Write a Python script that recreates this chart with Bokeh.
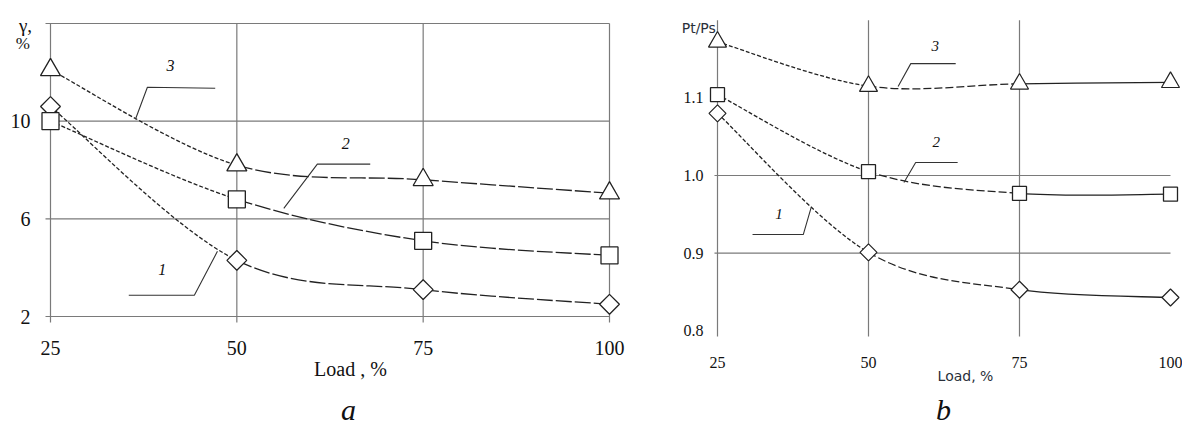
import numpy as np
from bokeh.plotting import figure
from bokeh.layouts import row
from bokeh.models import FixedTicker, Label, Range1d, NumeralTickFormatter
from bokeh.embed import file_html
from bokeh.resources import INLINE

# ---------------- data ----------------
load = [25, 50, 75, 100]
series_names = ["1", "2", "3"]

# panel a : gamma, %
gamma_1 = [10.6, 4.3, 3.1, 2.5]
gamma_2 = [10.0, 6.8, 5.1, 4.5]
gamma_3 = [12.1, 8.2, 7.6, 7.05]

# panel b : Pt/Ps
ratio_1 = [1.080, 0.901, 0.853, 0.843]
ratio_2 = [1.104, 1.005, 0.977, 0.976]
ratio_3 = [1.172, 1.115, 1.118, 1.120]

a_xticks = [25, 50, 75, 100]
a_yticks = [2, 6, 10]
a_ygrid = [2, 6, 10, 14]
b_xticks = [25, 50, 75, 100]
b_yticks = [0.8, 0.9, 1.0, 1.1]
b_ygrid = [0.9, 1.0]
b_xgrid = [25, 50, 75]

INK = "#222222"
GRID = "#7a7a7a"
SERIF = "Liberation Serif"


def bezier_parts(xs, ys):
    ex = [xs[0]] + list(xs) + [xs[-1]]
    ey = [ys[0]] + list(ys) + [ys[-1]]
    parts = []
    for i in range(len(xs) - 1):
        parts.append(dict(
            x0=[xs[i]], y0=[ys[i]], x1=[xs[i + 1]], y1=[ys[i + 1]],
            cx0=[xs[i] + (ex[i + 2] - ex[i]) / 6.0],
            cy0=[ys[i] + (ey[i + 2] - ey[i]) / 6.0],
            cx1=[xs[i + 1] - (ex[i + 3] - ex[i + 1]) / 6.0],
            cy1=[ys[i + 1] - (ey[i + 3] - ey[i + 1]) / 6.0],
        ))
    return parts


def draw_curve(p, xs, ys, dashes):
    for part, dash in zip(bezier_parts(xs, ys), dashes):
        p.bezier(line_color=INK, line_width=1.3, line_dash=dash, **part)


def style_axes(p, xticks, yticks, size_x, size_y, x_standoff, y_standoff):
    for ax in p.xaxis:
        ax.ticker = FixedTicker(ticks=xticks)
    for ax in p.yaxis:
        ax.ticker = FixedTicker(ticks=yticks)
    for ax in list(p.xaxis) + list(p.yaxis):
        ax.axis_line_color = None
        ax.major_tick_line_color = None
        ax.minor_tick_line_color = None
        ax.major_tick_out = 0
        ax.major_tick_in = 0
        ax.major_label_text_font = SERIF
        ax.major_label_text_color = "#111111"
    for ax in p.xaxis:
        ax.major_label_text_font_size = size_x
        ax.major_label_standoff = x_standoff
    for ax in p.yaxis:
        ax.major_label_text_font_size = size_y
        ax.major_label_standoff = y_standoff
    p.xgrid.visible = False
    p.ygrid.visible = False
    p.outline_line_color = None


def leader(p, xs, ys):
    p.line(xs, ys, line_color="#333333", line_width=1.1)


def tag(p, x, y, text, size="16px", font=SERIF, style="italic", color="#111111",
        align="center", baseline="middle", side=None):
    lab = Label(x=x, y=y, text=text, text_font=font, text_font_size=size,
                text_font_style=style, text_color=color, text_align=align,
                text_baseline=baseline)
    if side is None:
        p.add_layout(lab)
    else:
        p.add_layout(lab, side)


# ---------------- panel a ----------------
pa = figure(width=660, height=426, title=None,
            x_range=Range1d(23.39, 101.61), y_range=Range1d(1.181, 14.205),
            min_border_left=38, min_border_right=39, min_border_top=18, min_border_bottom=90,
            output_backend="svg", toolbar_location=None)
style_axes(pa, a_xticks, a_yticks, "20px", "20px", 4, 8)

# box + grid
for gx in a_xticks:
    pa.segment(x0=[gx], y0=[min(a_ygrid) - 0.25], x1=[gx], y1=[max(a_ygrid)],
               line_color=GRID, line_width=1.2)
for gy in a_ygrid:
    pa.segment(x0=[min(a_xticks) - 0.67], y0=[gy], x1=[max(a_xticks)], y1=[gy],
               line_color=GRID, line_width=1.2)

dash_a = ["4 2", "16 3", "16 3"]
draw_curve(pa, load, gamma_1, dash_a)
draw_curve(pa, load, gamma_2, dash_a)
draw_curve(pa, load, gamma_3, dash_a)

pa.scatter(load, gamma_1, marker="square", angle=np.pi / 4, size=14,
           fill_color="white", line_color=INK, line_width=1.3)
pa.scatter(load, gamma_2, marker="square", size=17,
           fill_color="white", line_color=INK, line_width=1.3)
pa.scatter(load, gamma_3, marker="triangle", size=20,
           fill_color="white", line_color=INK, line_width=1.3)

leader(pa, [36.4, 38.0, 47.1], [10.08, 11.39, 11.35])
leader(pa, [56.3, 60.8, 67.9], [6.43, 8.24, 8.24])
leader(pa, [47.4, 44.3, 35.5], [4.67, 2.87, 2.87])
tag(pa, 41.1, 12.3, series_names[2])
tag(pa, 64.6, 9.1, series_names[1])
tag(pa, 40.0, 3.93, series_names[0])

# texts outside the frame live in side panels (not clipped)
tag(pa, 65.25, -0.13, "Load , %", size="20px", style="normal", side="below")
tag(pa, 21.65, 13.92, "γ,", size="19px", style="normal", side="below")
tag(pa, 21.3, 13.18, "%", size="17px", style="normal", side="right")
tag(pa, 64.98, -2.5, "a", size="30px", baseline="bottom", side="right")

# ---------------- panel b ----------------
pb = figure(width=522, height=426, title=None,
            x_range=Range1d(23.179, 101.987), y_range=Range1d(0.7928, 1.2021),
            min_border_left=46, min_border_right=0, min_border_top=18, min_border_bottom=90,
            output_backend="svg", toolbar_location=None)
style_axes(pb, b_xticks, b_yticks, "16px", "16px", 20, 3)
pb.yaxis.formatter = NumeralTickFormatter(format="0.0")

for gx in b_xgrid:
    pb.segment(x0=[gx], y0=[0.79], x1=[gx], y1=[1.2], line_color=GRID, line_width=1.2)
for gy in b_ygrid:
    pb.segment(x0=[24.5], y0=[gy], x1=[max(b_xticks)], y1=[gy], line_color=GRID, line_width=1.2)

dash_b = ["4 2", "8 3", "solid"]
draw_curve(pb, load, ratio_1, dash_b)
draw_curve(pb, load, ratio_2, dash_b)
draw_curve(pb, load, ratio_3, dash_b)

pb.scatter(load, ratio_1, marker="square", angle=np.pi / 4, size=12,
           fill_color="white", line_color=INK, line_width=1.2)
pb.scatter(load, ratio_2, marker="square", size=14,
           fill_color="white", line_color=INK, line_width=1.3)
pb.scatter(load, ratio_3, marker="triangle", size=18,
           fill_color="white", line_color=INK, line_width=1.2)

leader(pb, [54.9, 57.0, 64.44], [1.1145, 1.144, 1.144])
leader(pb, [55.87, 57.81, 64.76], [0.991, 1.0167, 1.0167])
leader(pb, [40.5, 39.2, 30.8], [0.9588, 0.924, 0.924])
tag(pb, 61.05, 1.167, series_names[2], size="15px")
tag(pb, 61.2, 1.0425, series_names[1], size="15px")
tag(pb, 35.2, 0.951, series_names[0], size="15px")

tag(pb, 21.9, 1.1905, "Pt/Ps", size="14px", font="DejaVu Sans", style="normal",
    color="#2a2f3a", side="below")
tag(pb, 66.06, 0.7426, "Load, %", size="14px", font="DejaVu Sans", style="normal",
    color="#2a2f3a", side="below")
tag(pb, 62.4, 0.677, "b", size="30px", baseline="bottom", side="left")

layout = row(pa, pb)
open("out.html", "w").write(file_html(layout, INLINE))
